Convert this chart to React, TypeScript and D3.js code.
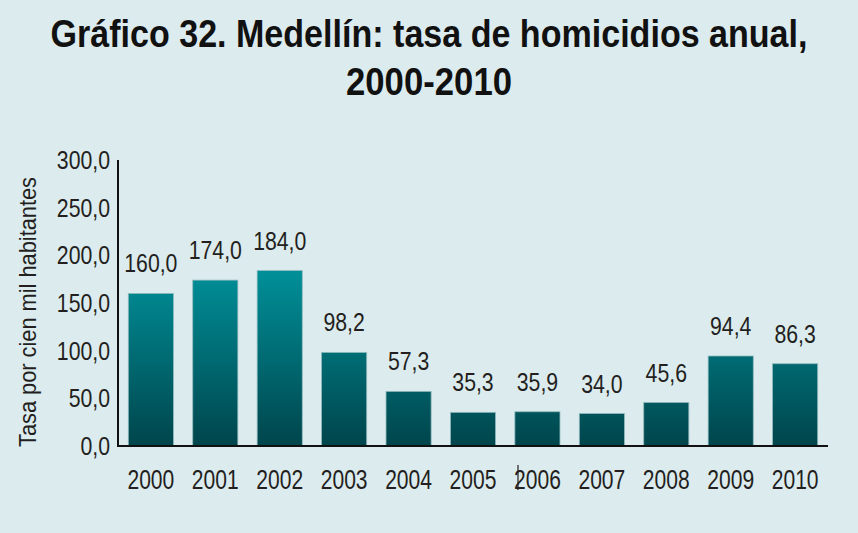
import React from "react";
import * as d3 from "d3";

const years = ["2000", "2001", "2002", "2003", "2004", "2005", "2006", "2007", "2008", "2009", "2010"];
const rates = [160.0, 174.0, 184.0, 98.2, 57.3, 35.3, 35.9, 34.0, 45.6, 94.4, 86.3];
const yTicks = [0, 50, 100, 150, 200, 250, 300];
const titleLines = ["Gráfico 32. Medellín: tasa de homicidios anual,", "2000-2010"];
const yLabel = "Tasa por cien mil habitantes";

const W = 858, H = 533;
const left = 118, right = 828, top = 160, bottom = 446;
const fmt = (v: number) => v.toFixed(1).replace(".", ",");
const FONT = "'Liberation Sans', Arial, sans-serif";
const INK = "#231f20";

function NarrowText(props: { x: number; y: number; size: number; sx: number; anchor: string; children: string }) {
  return (
    <text transform={`translate(${props.x},${props.y}) scale(${props.sx},1)`} textAnchor={props.anchor}
      fontSize={props.size} fill={INK}>{props.children}</text>
  );
}

export default function App() {
  const x = d3.scaleBand<string>().domain(years).range([left, right]).paddingInner(0.3).paddingOuter(0.16);
  const y = d3.scaleLinear().domain([0, 300]).range([bottom, top]);
  return (
    <svg width={W} height={H} style={{ position: "absolute", left: 0, top: 0 }} fontFamily={FONT}>
      <defs>
        <linearGradient id="barGrad" gradientUnits="userSpaceOnUse" x1={0} x2={0} y1={y(190)} y2={y(0)}>
          <stop offset="0" stopColor="#00929b" />
          <stop offset="1" stopColor="#00454c" />
        </linearGradient>
      </defs>
      <rect x={0} y={0} width={W} height={H} fill="#dcebee" />
      {titleLines.map((t, i) => (
        <text key={i} x={W / 2} y={i === 0 ? 47 : 95} textAnchor="middle" fontSize={39} fontWeight="bold" fill="#111"
          textLength={i === 0 ? 757 : 166} lengthAdjust="spacingAndGlyphs">{t}</text>
      ))}
      <text transform={`translate(36,${(177 + 447) / 2}) rotate(-90)`} textAnchor="middle" fontSize={24} fill={INK}
        textLength={270} lengthAdjust="spacingAndGlyphs">{yLabel}</text>
      {yTicks.map(t => (
        <NarrowText key={t} x={110} y={y(t) + 9} size={25} sx={0.85} anchor="end">{fmt(t)}</NarrowText>
      ))}
      {years.map((yr, i) => {
        const cx = (x(yr) as number) + x.bandwidth() / 2;
        return (
          <g key={yr}>
            <rect x={x(yr)} y={y(rates[i])} width={x.bandwidth()} height={bottom - y(rates[i])} fill="url(#barGrad)"
              stroke="#8fb9bd" strokeWidth={0.8} />
            <NarrowText x={cx} y={y(rates[i]) - 21} size={25} sx={0.85} anchor="middle">{fmt(rates[i])}</NarrowText>
            <NarrowText x={cx} y={489} size={27} sx={0.78} anchor="middle">{yr}</NarrowText>
          </g>
        );
      })}
      <line x1={left} x2={left} y1={top} y2={bottom + 1} stroke="#111" strokeWidth={2} />
      <line x1={left - 1} x2={right} y1={bottom} y2={bottom} stroke="#111" strokeWidth={2.2} />
      <line x1={518} x2={518} y1={465} y2={490} stroke={INK} strokeWidth={1.2} />
    </svg>
  );
}
